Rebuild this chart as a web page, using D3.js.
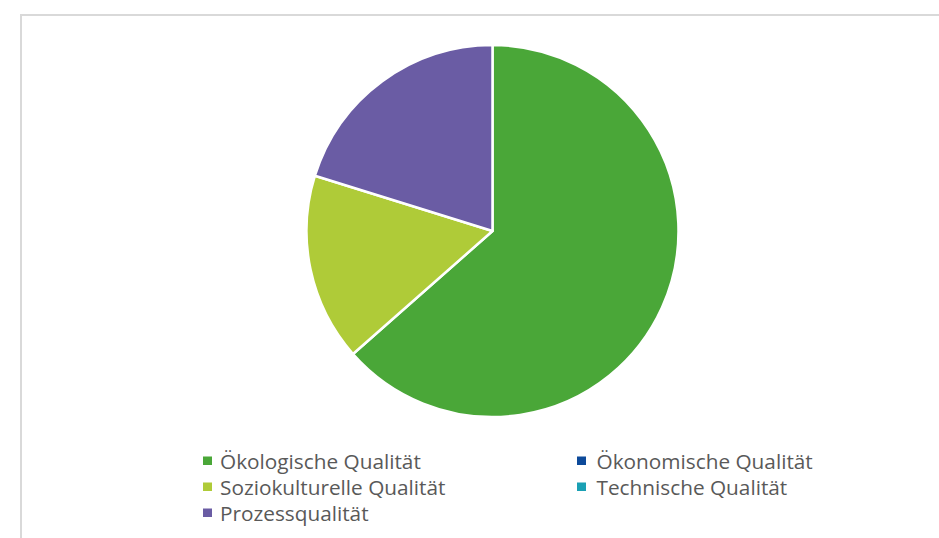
<!DOCTYPE html>
<html>
<head>
<meta charset="utf-8">
<script src="https://cdn.jsdelivr.net/npm/d3@7"></script>
<style>
  html, body { margin: 0; padding: 0; background: #ffffff; }
  svg { display: block; }
</style>
</head>
<body>
<svg id="chart" width="939" height="538"></svg>
<script>
const categories = ["Ökologische Qualität", "Ökonomische Qualität", "Soziokulturelle Qualität", "Technische Qualität", "Prozessqualität"];
const values = [63.5, 0, 16.3, 0, 20.2];
const colors = ["#4aa738", "#0d4a9a", "#afcb38", "#1aa0b4", "#6a5ca4"];

const svg = d3.select("#chart");
const W = 939, H = 538;

// chart frame
svg.append("rect")
  .attr("x", 21).attr("y", 15)
  .attr("width", W + 10).attr("height", H + 10)
  .attr("fill", "#ffffff")
  .attr("stroke", "#d9d9d9").attr("stroke-width", 2);

const data = categories.map((c, i) => ({ name: c, value: values[i], color: colors[i] }));

const pie = d3.pie().sort(null).value(d => d.value);
const arc = d3.arc().innerRadius(0).outerRadius(186);

const g = svg.append("g").attr("transform", "translate(492.5,231)");
g.selectAll("path")
  .data(pie(data).filter(d => d.data.value > 0))
  .join("path")
  .attr("d", arc)
  .attr("fill", d => d.data.color)
  .attr("stroke", "#ffffff")
  .attr("stroke-width", 2.5)
  .attr("stroke-linejoin", "round");

// legend
const markX = [203, 577];
const textX = [220, 596.5];
const baseY = [468.5, 494.5, 520.5];
const legend = svg.append("g");
const texts = [];
data.forEach((d, i) => {
  const col = i % 2, row = Math.floor(i / 2);
  legend.append("rect")
    .attr("x", markX[col]).attr("y", baseY[row] - 12)
    .attr("width", 9).attr("height", 8.5)
    .attr("fill", d.color);
  const t = legend.append("text")
    .attr("x", 0).attr("y", 0)
    .attr("font-family", "'Open Sans', 'Noto Sans', sans-serif")
    .attr("font-size", 19.5)
    .attr("fill", "#595959")
    .text(d.name);
  texts.push({ t, x: textX[col], y: baseY[row] });
});
// match the reference face's width: first label spans ~201px
const w0 = texts[0].t.node().getComputedTextLength();
const sx = 201 / w0;
texts.forEach(o => o.t.attr("transform", `translate(${o.x},${o.y}) scale(${sx},1)`));
</script>
</body>
</html>
